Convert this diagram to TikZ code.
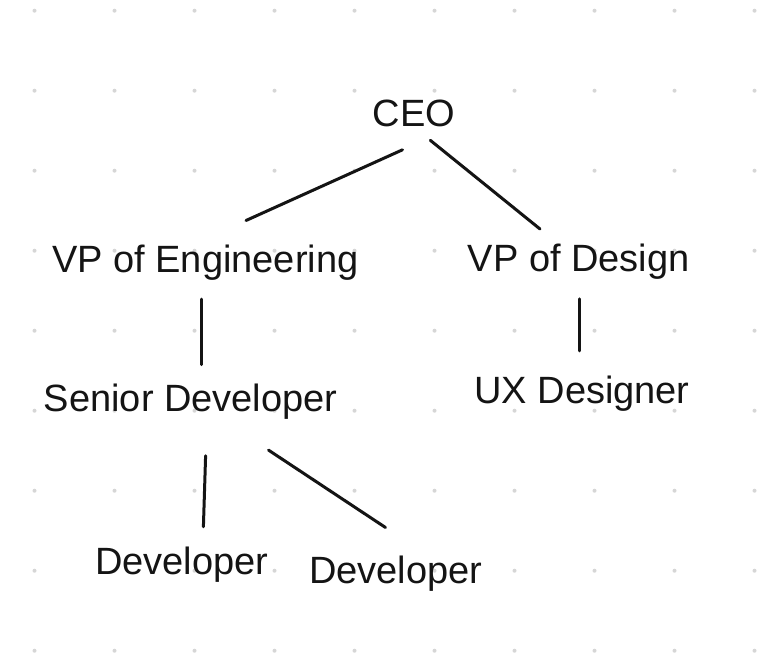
\documentclass[tikz,border=0pt]{standalone}
\usepackage{fontspec}
\setmainfont{Liberation Sans}
\begin{document}
\begin{tikzpicture}[x=1pt,y=-1pt,
  lbl/.style={anchor=base, inner sep=0pt, font=\fontsize{38}{44}\selectfont, text=black!92},
  link/.style={line width=3pt, line cap=round, draw=black!92},
  gdot/.style={fill=black!16}]
\useasboundingbox (0,0) rectangle (770,662);
\fill[white] (0,0) rectangle (770,662);
\foreach \i in {0,...,9} \foreach \j in {0,...,8} \fill[gdot] (34.5+80*\i, 10.7+80*\j) circle (2);
% nodes
\node[lbl] (ceo)  at (414,126.7)   {CEO};
\node[lbl] (vpe)  at (205.3,272.5) {VP of Engineering};
\node[lbl] (vpd)  at (578.8,271.7) {VP of Design};
\node[lbl] (sen)  at (190.7,411.7) {Senior Developer};
\node[lbl] (ux)   at (582,403.3)   {UX Designer};
\node[lbl] (dev1) at (181.7,574)   {Developer};
\node[lbl] (dev2) at (395.8,583.3) {Developer};
% connector ends
\coordinate (ceo-l)  at (402.5,149.8);
\coordinate (vpe-t)  at (246,220.5);
\coordinate (ceo-r)  at (430.3,140.3);
\coordinate (vpd-t)  at (540,229);
\coordinate (vpe-b)  at (201.7,299);
\coordinate (sen-t)  at (201.7,364.5);
\coordinate (vpd-b)  at (579,298.8);
\coordinate (ux-t)   at (579,350.8);
\coordinate (sen-b1) at (205.6,455.8);
\coordinate (dev1-t) at (203.4,526.8);
\coordinate (sen-b2) at (268.5,450.1);
\coordinate (dev2-t) at (385.5,527.5);
% connectors
\draw[link] (ceo-l) -- (vpe-t);
\draw[link] (ceo-r) -- (vpd-t);
\draw[link] (vpe-b) -- (sen-t);
\draw[link] (vpd-b) -- (ux-t);
\draw[link] (sen-b1) -- (dev1-t);
\draw[link] (sen-b2) -- (dev2-t);
\end{tikzpicture}
\end{document}
